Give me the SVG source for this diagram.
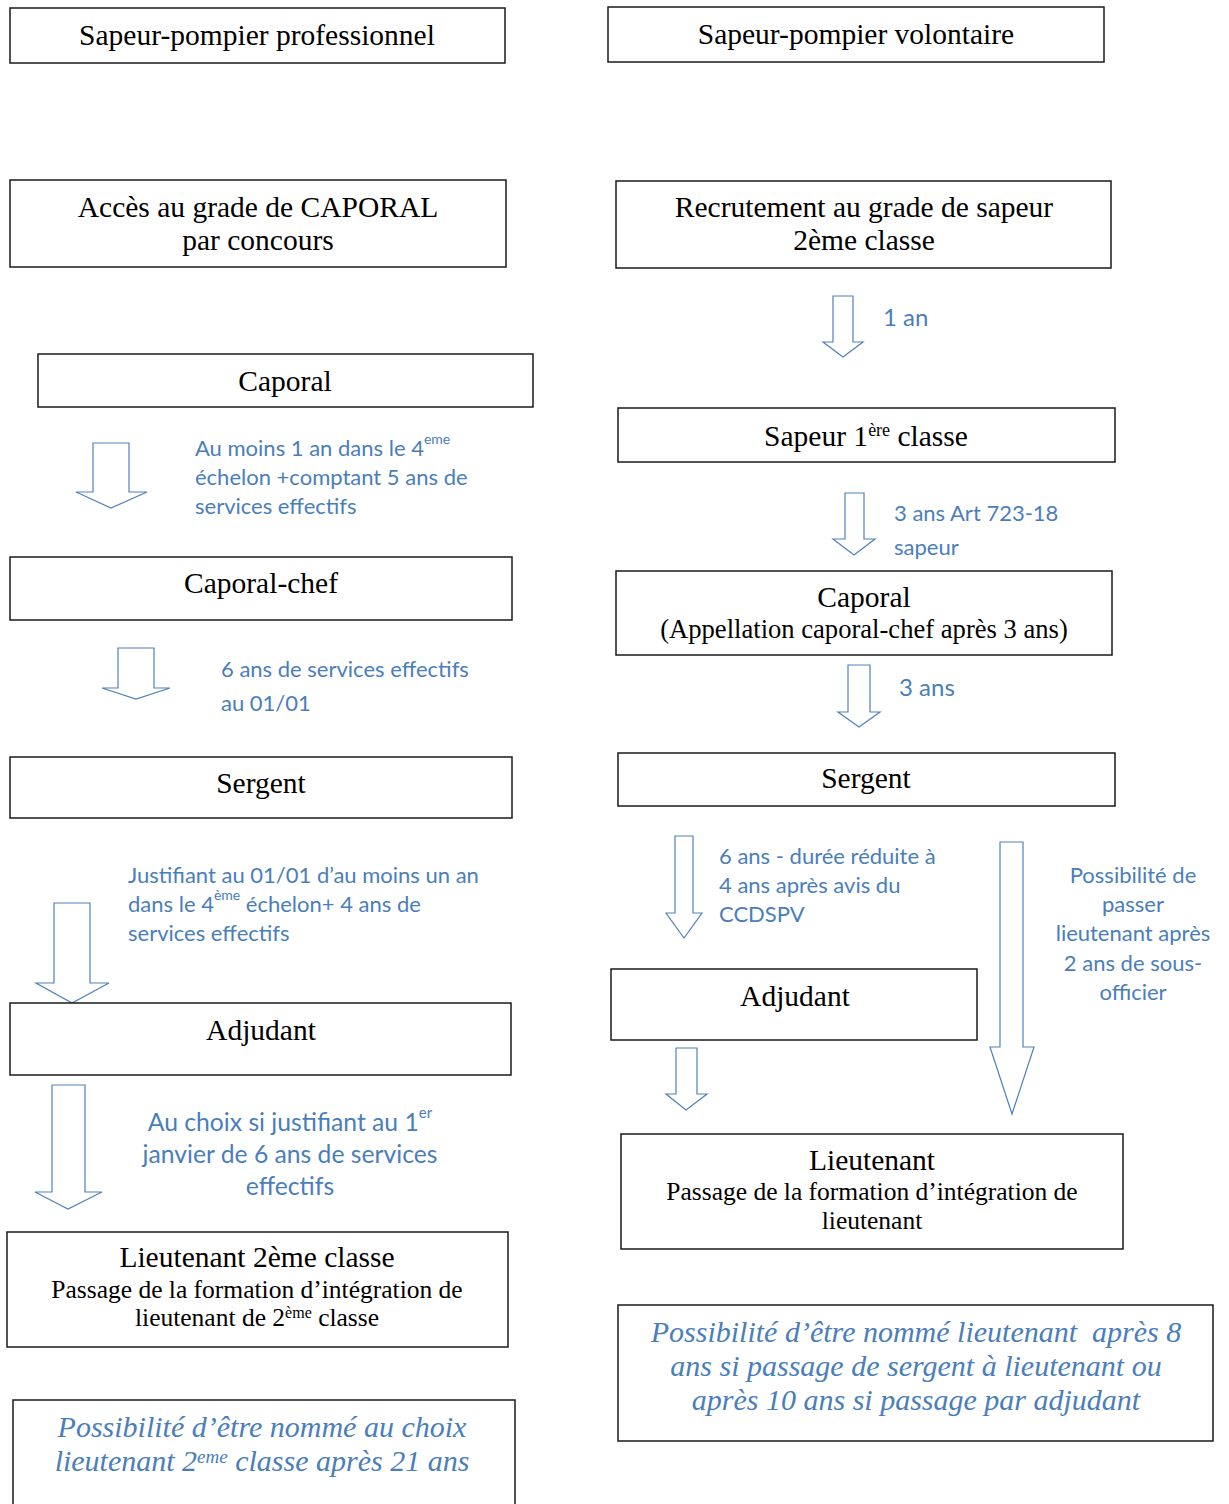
<svg xmlns="http://www.w3.org/2000/svg" width="1229" height="1504" viewBox="0 0 1229 1504">
<style>
.box{fill:#fff;stroke:#1a1a1a;stroke-width:1.5}
.arr{fill:#fff;stroke:#4f81bd;stroke-width:1.2;stroke-linejoin:miter}
.t{font-family:"Liberation Serif",serif;fill:#000;text-anchor:middle;font-size:29.5px}
.s{font-size:25.5px}
.b{font-family:Lato,"Open Sans",sans-serif;fill:#4a7ebb;font-size:22px}
.i{font-family:"Liberation Serif",serif;font-style:italic;fill:#4a7ebb;text-anchor:middle;font-size:30px;white-space:pre}
</style>
<rect width="1229" height="1504" fill="#fff"/>
<g id="connectors">
<polygon class="arr" points="93,443 129,443 129,492 147,492 111,508 76,492 93,492"/>
<polygon class="arr" points="118,648 154,648 154,688 170,688 136,699 102,688 118,688"/>
<polygon class="arr" points="54,903 90,903 90,983 109,983 72,1003 36,983 54,983"/>
<polygon class="arr" points="52,1085 85,1085 85,1192 102,1192 68,1209 35,1192 52,1192"/>
<polygon class="arr" points="833,296 853,296 853,342 863,342 843,357 823,342 833,342"/>
<polygon class="arr" points="845,493 864,493 864,539 875,539 854,555 833,539 845,539"/>
<polygon class="arr" points="848,665 870,665 870,712 880,712 859,727 838,712 848,712"/>
<polygon class="arr" points="675,836 693,836 693,913 702,913 684,938 666,913 675,913"/>
<polygon class="arr" points="1000,842 1023,842 1023,1047 1034,1047 1012,1114 990,1047 1000,1047"/>
<polygon class="arr" points="676,1048 697,1048 697,1094 707,1094 686,1110 666,1094 676,1094"/>
<text class="b" x="195" y="456">Au moins 1 an dans le 4<tspan dy="-12" font-size="14">eme</tspan></text>
<text class="b" x="195" y="485">échelon +comptant 5 ans de</text>
<text class="b" x="195" y="514">services effectifs</text>
<text class="b" x="883" y="326" style="font-size:24px">1 an</text>
<text class="b" x="894" y="521">3 ans Art 723-18</text>
<text class="b" x="894" y="555">sapeur</text>
<text class="b" x="221" y="677">6 ans de services effectifs</text>
<text class="b" x="221" y="711">au 01/01</text>
<text class="b" x="899" y="696" style="font-size:24px">3 ans</text>
<text class="b" x="128" y="883">Justifiant au 01/01 d’au moins un an</text>
<text class="b" x="128" y="912">dans le 4<tspan dy="-12" font-size="14">ème</tspan><tspan dy="12"> échelon+ 4 ans de</tspan></text>
<text class="b" x="128" y="941">services effectifs</text>
<text class="b" x="719" y="864">6 ans - durée réduite à</text>
<text class="b" x="719" y="893">4 ans après avis du</text>
<text class="b" x="719" y="922">CCDSPV</text>
<g class="b" text-anchor="middle">
<text x="1133" y="883">Possibilité de</text>
<text x="1133" y="912">passer</text>
<text x="1133" y="941">lieutenant après</text>
<text x="1133" y="971">2 ans de sous-</text>
<text x="1133" y="1000">officier</text>
</g>
<g class="b" text-anchor="middle" style="font-size:24.7px">
<text x="290" y="1131">Au choix si justifiant au 1<tspan dy="-13" font-size="15">er</tspan></text>
<text x="290" y="1163">janvier de 6 ans de services</text>
<text x="290" y="1195">effectifs</text>
</g>
</g>
<g id="n1"><rect class="box" x="10" y="8" width="495" height="55"/><text class="t" x="257" y="45">Sapeur-pompier professionnel</text></g>
<g id="n2"><rect class="box" x="608" y="7" width="496" height="55"/><text class="t" x="856" y="44">Sapeur-pompier volontaire</text></g>
<g id="n3"><rect class="box" x="10" y="180" width="496" height="87"/><text class="t" x="258" y="217">Accès au grade de CAPORAL</text><text class="t" x="258" y="250">par concours</text></g>
<g id="n4"><rect class="box" x="616" y="181" width="495" height="87"/><text class="t" x="864" y="217">Recrutement au grade de sapeur</text><text class="t" x="864" y="250">2ème classe</text></g>
<g id="n5"><rect class="box" x="38" y="354" width="495" height="53"/><text class="t" x="285" y="391">Caporal</text></g>
<g id="n6"><rect class="box" x="618" y="408" width="497" height="54"/><text class="t" x="866" y="446">Sapeur 1<tspan dy="-10" font-size="18">ère</tspan><tspan dy="10"> classe</tspan></text></g>
<g id="n7"><rect class="box" x="10" y="557" width="502" height="63"/><text class="t" x="261" y="593">Caporal-chef</text></g>
<g id="n8"><rect class="box" x="616" y="571" width="496" height="84"/><text class="t" x="864" y="607">Caporal</text><text class="t" x="864" y="638" style="font-size:26.6px">(Appellation caporal-chef après 3 ans)</text></g>
<g id="n9"><rect class="box" x="10" y="757" width="502" height="61"/><text class="t" x="261" y="793">Sergent</text></g>
<g id="n10"><rect class="box" x="618" y="753" width="497" height="53"/><text class="t" x="866" y="788">Sergent</text></g>
<g id="n11"><rect class="box" x="10" y="1003" width="501" height="72"/><text class="t" x="261" y="1040">Adjudant</text></g>
<g id="n12"><rect class="box" x="611" y="969" width="366" height="71"/><text class="t" x="795" y="1006">Adjudant</text></g>
<g id="n13"><rect class="box" x="7" y="1232" width="501" height="115"/><text class="t" x="257" y="1267">Lieutenant 2ème classe</text><text class="t s" x="257" y="1298">Passage de la formation d’intégration de</text><text class="t s" x="257" y="1326">lieutenant de 2<tspan dy="-8" font-size="16">ème</tspan><tspan dy="8"> classe</tspan></text></g>
<g id="n14"><rect class="box" x="621" y="1134" width="502" height="115"/><text class="t" x="872" y="1170">Lieutenant</text><text class="t s" x="872" y="1200">Passage de la formation d’intégration de</text><text class="t s" x="872" y="1229">lieutenant</text></g>
<g id="n15"><rect class="box" x="618" y="1305" width="595" height="136"/><text class="i" x="916" y="1342" xml:space="preserve">Possibilité d’être nommé lieutenant  après 8</text><text class="i" x="916" y="1376">ans si passage de sergent à lieutenant ou</text><text class="i" x="916" y="1410">après 10 ans si passage par adjudant</text></g>
<g id="n16"><rect class="box" x="13" y="1400" width="502" height="110"/><text class="i" x="262" y="1437">Possibilité d’être nommé au choix</text><text class="i" x="262" y="1471">lieutenant 2<tspan dy="-8" font-size="19">eme</tspan><tspan dy="8"> classe après 21 ans</tspan></text></g>
</svg>
